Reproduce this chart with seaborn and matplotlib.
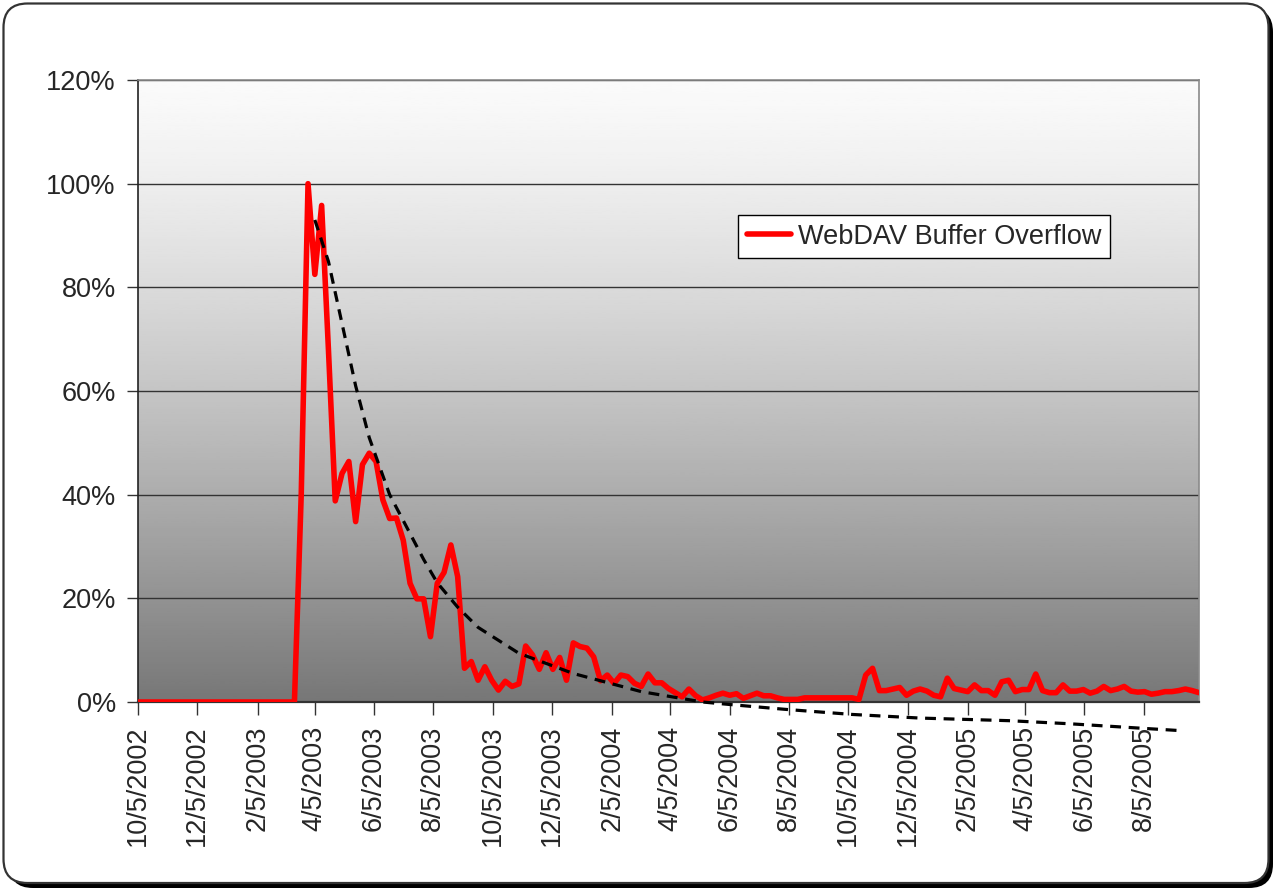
import numpy as np
import pandas as pd
import matplotlib
matplotlib.use("Agg")
import matplotlib.pyplot as plt
import matplotlib.dates as mdates
from matplotlib.ticker import PercentFormatter, FuncFormatter
from matplotlib.patches import FancyBboxPatch
import seaborn as sns

# weekly share of traffic (%), first week = 10/5/2002
start_date = "2002-10-05"
series_name = "WebDAV Buffer Overflow"
pct = [
    0, 0, 0, 0, 0, 0, 0, 0, 0, 0,
    0, 0, 0, 0, 0, 0, 0, 0, 0, 0,
    0, 0, 0, 0, 40, 100, 82.5, 95.8, 68, 38.8,
    44.1, 46.4, 34.8, 45.8, 48.0, 46.4, 39.0, 35.4, 35.5, 31.2,
    22.9, 19.9, 19.9, 12.6, 22.9, 25.0, 30.3, 24.2, 6.5, 7.8,
    4.2, 6.8, 4.2, 2.3, 4.0, 3.0, 3.5, 10.8, 9.1, 6.3,
    9.5, 6.3, 8.6, 4.2, 11.4, 10.7, 10.4, 8.7, 4.1, 5.2,
    3.6, 5.2, 4.9, 3.6, 3.0, 5.4, 3.7, 3.7, 2.6, 1.8,
    1.0, 2.5, 1.2, 0.4, 0.8, 1.3, 1.7, 1.3, 1.6, 0.7,
    1.2, 1.7, 1.2, 1.2, 0.8, 0.5, 0.5, 0.5, 0.8, 0.8,
    0.8, 0.8, 0.8, 0.8, 0.8, 0.8, 0.5, 5.2, 6.5, 2.2,
    2.2, 2.5, 2.8, 1.3, 2.1, 2.5, 2.1, 1.3, 1.0, 4.6,
    2.6, 2.3, 2.0, 3.3, 2.2, 2.2, 1.3, 3.9, 4.2, 2.0,
    2.4, 2.4, 5.4, 2.2, 1.8, 1.8, 3.3, 2.1, 2.1, 2.4,
    1.7, 2.1, 3.0, 2.2, 2.5, 3.0, 2.1, 1.9, 2.0, 1.5,
    1.7, 2.0, 2.0, 2.2, 2.5, 2.2, 1.8,
]

# dashed trend line (week index, %)
trend_week = [26, 28, 30, 32, 34, 37, 39, 42, 44, 47, 50, 56, 64,
              74, 83, 88, 95, 105, 115, 128, 137, 148, 153]
trend_pct = [93, 85, 73, 61, 51, 40, 35, 27.5, 23, 18.3, 14.4, 9.4, 5.5,
             2.0, 0, -0.6, -1.4, -2.4, -3.1, -3.6, -4.2, -5.1, -5.5]

y_ticks = [0, 20, 40, 60, 80, 100, 120]

dates = pd.date_range(start_date, periods=len(pct), freq="7D")
df = pd.DataFrame({"date": dates, "pct": pct})
trend_df = pd.DataFrame({
    "date": pd.Timestamp(start_date) + pd.to_timedelta(np.array(trend_week) * 7, unit="D"),
    "pct": trend_pct,
})

sns.set_style("white")
plt.rcParams["font.family"] = ["Liberation Sans", "DejaVu Sans"]
FS = 19.5

W, H = 1274, 890
fig = plt.figure(figsize=(W / 100, H / 100), dpi=100)
fig.patch.set_facecolor("white")

# rounded frame with shadow
frame = fig.add_axes([0, 0, 1, 1], zorder=-2)
frame.set_xlim(0, W)
frame.set_ylim(0, H)
frame.axis("off")
frame.add_patch(FancyBboxPatch((9, 2), 1264, 880, boxstyle="round,pad=0,rounding_size=24",
                               facecolor="black", edgecolor="black", lw=0))
frame.add_patch(FancyBboxPatch((3.5, 7), 1265, 879.5, boxstyle="round,pad=0,rounding_size=24",
                               facecolor="white", edgecolor="#333333", lw=1.6))

rect = [138 / W, 1 - 702 / H, (1199 - 138) / W, (702 - 80) / H]

# plot area gradient
bg = fig.add_axes(rect, zorder=-1)
t = np.linspace(0, 1, 256) ** 1.3
grad = (250 - 131 * t)[:, None] / 255.0
bg.imshow(grad, aspect="auto", cmap="gray", vmin=0, vmax=1, extent=[0, 1, 0, 1])
bg.axis("off")

ax = fig.add_axes(rect, zorder=0)
ax.patch.set_alpha(0)

sns.lineplot(data=df, x="date", y="pct", ax=ax, color="#ff0000", lw=4.0,
             label=series_name, zorder=3)
sns.lineplot(data=trend_df, x="date", y="pct", ax=ax, color="black", lw=2.3,
             linestyle=(0, (3.4, 2.4)), legend=False, zorder=4, clip_on=False)

ax.set_xlim(dates[0], dates[-1])
ax.set_ylim(0, 120)
ax.set_yticks(y_ticks)
ax.yaxis.set_major_formatter(PercentFormatter(xmax=100, decimals=0))
ax.xaxis.set_major_locator(mdates.MonthLocator(bymonth=[2, 4, 6, 8, 10, 12], bymonthday=5))
ax.xaxis.set_major_formatter(FuncFormatter(
    lambda v, p: "{d.month}/{d.day}/{d.year}".format(d=mdates.num2date(v))))
ax.set_xlabel("")
ax.set_ylabel("")

ax.grid(axis="y", color="#333333", lw=1.0)
ax.grid(axis="x", visible=False)
ax.tick_params(axis="y", length=8, width=1, color="#333333", pad=8, labelsize=FS, left=True)
ax.tick_params(axis="x", length=9, width=1, color="#333333", pad=8, labelsize=FS,
               labelrotation=90, bottom=True)
for lbl in ax.get_xticklabels():
    lbl.set_va("top")

ax.spines["left"].set_color("#222222")
ax.spines["left"].set_linewidth(1.2)
ax.spines["bottom"].set_color("#333333")
ax.spines["bottom"].set_linewidth(1.6)
for s in ("top", "right"):
    ax.spines[s].set_color("#8a8a8a")
    ax.spines[s].set_linewidth(1.2)

leg = ax.legend(loc="upper left", bbox_to_anchor=((738 - 138) / 1061, (702 - 215) / 622),
                borderaxespad=0, fontsize=FS, frameon=True, fancybox=False,
                handlelength=1.65, handletextpad=0.25, borderpad=0.32)
leg.get_frame().set_edgecolor("black")
leg.get_frame().set_linewidth(1.0)
leg.get_frame().set_facecolor("white")
leg.get_frame().set_alpha(1)

fig.savefig("out.png", dpi=100)
